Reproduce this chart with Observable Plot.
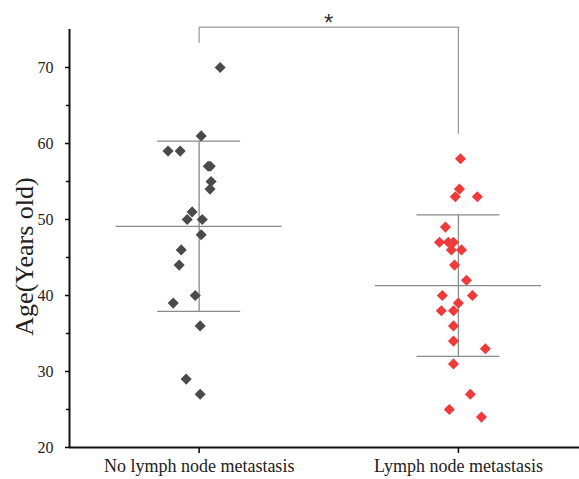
<!DOCTYPE html>
<html>
<head>
<meta charset="utf-8">
<script src="https://cdn.jsdelivr.net/npm/d3@7"></script>
<script src="https://cdn.jsdelivr.net/npm/@observablehq/plot@0.6"></script>
<style>
  html, body { margin: 0; padding: 0; background: #fff; }
  svg { display: block; }
</style>
</head>
<body>
<div id="chart"></div>
<script>
// ---- data ----
const groups = ["No lymph node metastasis", "Lymph node metastasis"];
const noMetAges = [70, 61, 59, 59, 57, 57, 55, 54, 51, 50, 50, 48, 46, 44, 40, 39, 36, 29, 27];
const noMetJitter = [0.081, 0.008, -0.12, -0.073, 0.035, 0.043, 0.046, 0.042, -0.027, -0.046, 0.012, 0.008, -0.069, -0.077, -0.015, -0.1, 0.004, -0.05, 0.004];
const metAges = [58, 54, 53, 53, 49, 47, 47, 47, 46, 46, 44, 42, 40, 40, 39, 38, 38, 36, 34, 33, 31, 27, 25, 24];
const metJitter = [0.008, 0.004, -0.012, 0.073, -0.05, -0.073, -0.039, -0.019, -0.027, 0.012, -0.015, 0.031, -0.062, 0.054, 0, -0.066, -0.019, -0.019, -0.019, 0.104, -0.019, 0.046, -0.035, 0.089];
const groupMeans = [49.1, 41.3];
const groupSDs = [11.2, 9.3];
const yTicks = [20, 30, 40, 50, 60, 70];
const yMinorTicks = [25, 35, 45, 55, 65];
const bracketTop = 75.3;
const bracketLeftEnd = 73.3;
const bracketRightEnd = 61.3;
const significance = "*";

// ---- build tables ----
const points = [
  ...noMetAges.map((age, i) => ({g: 0, x: 0 + noMetJitter[i], age})),
  ...metAges.map((age, i) => ({g: 1, x: 1 + metJitter[i], age}))
];
const stats = groupMeans.map((m, i) => ({g: i, mean: m, lo: m - groupSDs[i], hi: m + groupSDs[i]}));
const colors = ["#4a4a4a", "#ee3a3a"];
const meanHalf = 0.32, capHalf = 0.16;
const bracket = [
  {x: 0, y: bracketLeftEnd}, {x: 0, y: bracketTop},
  {x: 1, y: bracketTop}, {x: 1, y: bracketRightEnd}
];
const serif = "'Liberation Serif', 'Times New Roman', serif";

const chart = Plot.plot({
  width: 579,
  height: 479,
  marginLeft: 69,
  marginRight: 0,
  marginTop: 29,
  marginBottom: 32,
  style: {fontFamily: serif, background: "#fff", overflow: "visible"},
  x: {type: "linear", domain: [-0.5, 1.467], axis: null},
  y: {domain: [20, 75], axis: null},
  marks: [
    // y axis: major ticks & labels
    Plot.axisY({ticks: yTicks, tickSize: 4, tickPadding: 12, fontSize: 16, stroke: "#000", strokeWidth: 1.5,
      tickFormat: d => d, fill: "#222", label: null}),
    Plot.axisY({ticks: yMinorTicks, tickSize: 3, stroke: "#000", strokeWidth: 1.5, tickFormat: () => "", label: null}),
    Plot.text(["Age(Years old)"], {frameAnchor: "left", textAnchor: "middle", dx: -45, dy: 18, rotate: -90, fontSize: 26, fill: "#222", fontFamily: serif}),
    // x axis
    Plot.axisX({ticks: [0, 1], tickSize: 6, tickPadding: 6, fontSize: 18, stroke: "#000", strokeWidth: 1.5,
      tickFormat: d => groups[d], fill: "#222", label: null}),
    Plot.ruleY([20], {stroke: "#111", strokeWidth: 2}),
    Plot.ruleX([-0.5], {stroke: "#111", strokeWidth: 2}),
    // mean & SD
    Plot.ruleX(stats, {x: "g", y1: "lo", y2: "hi", stroke: "#8a8a8a", strokeWidth: 1.3}),
    Plot.ruleY(stats, {y: "mean", x1: d => d.g - meanHalf, x2: d => d.g + meanHalf, stroke: "#8a8a8a", strokeWidth: 1.3}),
    Plot.ruleY(stats, {y: "hi", x1: d => d.g - capHalf, x2: d => d.g + capHalf, stroke: "#8a8a8a", strokeWidth: 1.3}),
    Plot.ruleY(stats, {y: "lo", x1: d => d.g - capHalf, x2: d => d.g + capHalf, stroke: "#8a8a8a", strokeWidth: 1.3}),
    // points
    Plot.dot(points, {x: "x", y: "age", symbol: "diamond2", r: 5, fill: d => colors[d.g], stroke: "none"}),
    // significance bracket
    Plot.line(bracket, {x: "x", y: "y", stroke: "#999", strokeWidth: 1.2}),
    Plot.text([significance], {x: 0.5, y: bracketTop, dy: -4, fontSize: 24, fill: "#333", fontFamily: "'Liberation Sans', sans-serif"})
  ]
});
document.getElementById("chart").appendChild(chart);
</script>
</body>
</html>
